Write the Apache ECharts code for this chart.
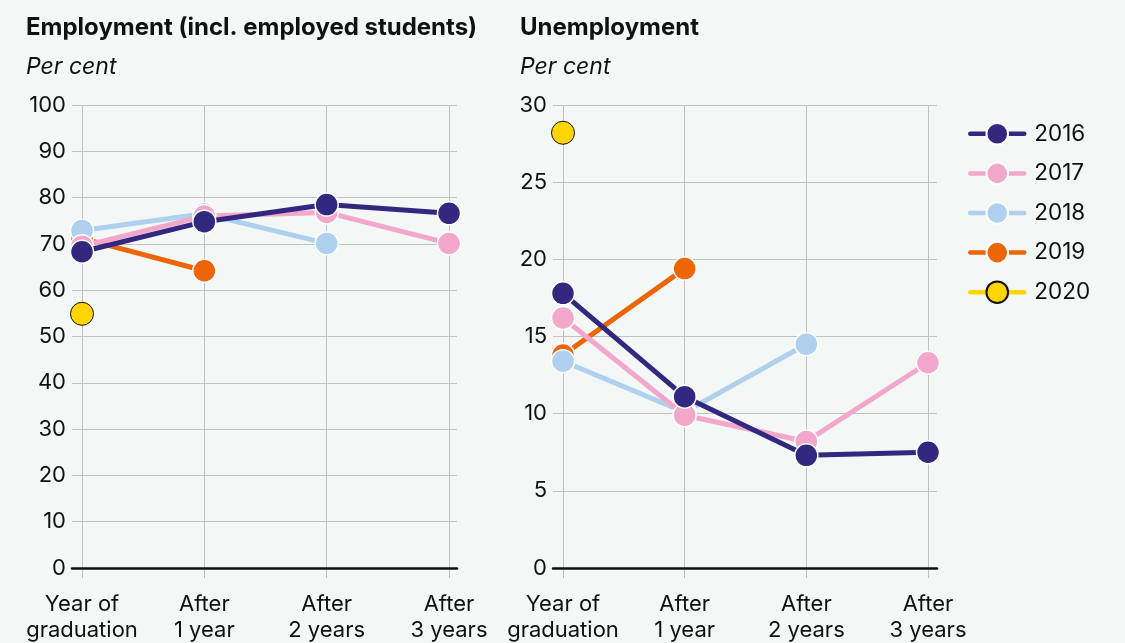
<!DOCTYPE html>
<html>
<head>
<meta charset="utf-8">
<script src="https://cdn.jsdelivr.net/npm/echarts@6/dist/echarts.min.js"></script>
<style>
  html, body { margin: 0; padding: 0; background: #f3f8f6; }
  #chart { width: 1125px; height: 643px; }
</style>
</head>
<body>
<div id="chart"></div>
<script>
// Time since graduation
const categories = ['Year of\ngraduation', 'After\n1 year', 'After\n2 years', 'After\n3 years'];
const years = ['2016', '2017', '2018', '2019', '2020'];

// Employment rate (incl. employed students), per cent
const emp2016 = [68.3, 74.8, 78.5, 76.6];
const emp2017 = [69.5, 76.0, 76.8, 70.1];
const emp2018 = [72.9, 76.5, 70.1];
const emp2019 = [71.2, 64.2];
const emp2020 = [54.9];

// Unemployment rate, per cent
const unemp2016 = [17.8, 11.1, 7.3, 7.5];
const unemp2017 = [16.2, 9.9, 8.2, 13.3];
const unemp2018 = [13.4, 10.1, 14.5];
const unemp2019 = [13.8, 19.4];
const unemp2020 = [28.2];

const empTicks = { min: 0, max: 100, interval: 10 };
const unempTicks = { min: 0, max: 30, interval: 5 };

const colors = {
  '2016': '#32287f',
  '2017': '#f3a8cb',
  '2018': '#afd0ef',
  '2019': '#ec6608',
  '2020': '#ffd500'
};

const FONT = 'Inter, "Noto Sans", sans-serif';
const GRID_COLOR = '#bfc3c2';

// panel geometry
const panels = [
  { bgLeft: 72, bgWidth: 385, left: 82, width: 367, ticks: empTicks,
    data: { '2016': emp2016, '2017': emp2017, '2018': emp2018, '2019': emp2019, '2020': emp2020 } },
  { bgLeft: 553, bgWidth: 384, left: 563, width: 365, ticks: unempTicks,
    data: { '2016': unemp2016, '2017': unemp2017, '2018': unemp2018, '2019': unemp2019, '2020': unemp2020 } }
];
const TOP = 105, HEIGHT = 463;

const grid = [], xAxis = [], yAxis = [], series = [];

panels.forEach((p, i) => {
  // background grid: y axis labels, horizontal lines and baseline
  grid.push({ left: p.bgLeft, width: p.bgWidth, top: TOP, height: HEIGHT });
  // data grid: category positions
  grid.push({ left: p.left, width: p.width, top: TOP, height: HEIGHT });
  const bg = i * 2, dg = i * 2 + 1;

  xAxis.push({
    gridIndex: bg, type: 'value', min: 0, max: 1,
    axisLine: { show: true, onZero: false, lineStyle: { color: '#111', width: 2.5 } },
    axisTick: { show: false }, axisLabel: { show: false }, splitLine: { show: false }, z: 5
  });
  xAxis.push({
    gridIndex: dg, type: 'category', boundaryGap: false, data: categories,
    axisLine: { show: false },
    axisTick: { show: true, length: 10, lineStyle: { color: GRID_COLOR, width: 1 } },
    splitLine: { show: true, lineStyle: { color: GRID_COLOR, width: 1 } },
    axisLabel: { color: '#111', fontFamily: FONT, fontSize: 22, lineHeight: 26, margin: 23, interval: 0 }
  });
  yAxis.push({
    gridIndex: bg, type: 'value', min: p.ticks.min, max: p.ticks.max, interval: p.ticks.interval,
    axisLine: { show: false }, axisTick: { show: false },
    splitLine: { show: true, lineStyle: { color: GRID_COLOR, width: 1 } },
    axisLabel: { color: '#111', fontFamily: FONT, fontSize: 22, margin: 6 }
  });
  yAxis.push({
    gridIndex: dg, type: 'value', min: p.ticks.min, max: p.ticks.max, interval: p.ticks.interval,
    show: false
  });

  // drawing order: 2019 underneath, 2016 on top, 2020 alone
  ['2019', '2018', '2017', '2016', '2020'].forEach((y, k) => {
    const c = colors[y];
    series.push({
      name: y, type: 'line', xAxisIndex: i * 2 + 1, yAxisIndex: i * 2 + 1,
      data: p.data[y], z: 10 + k,
      symbol: 'circle', symbolSize: 23, showSymbol: true,
      lineStyle: { color: c, width: 5, cap: 'round' },
      itemStyle: y === '2020'
        ? { color: c, borderColor: '#111', borderWidth: 1 }
        : { color: c, borderColor: '#ffffff', borderWidth: 1.5 },
      emphasis: { disabled: true },
      animation: false
    });
  });
});

const titleStyle = { fontFamily: FONT, fontSize: 24, fontWeight: 'bold', color: '#111' };
const subStyle = { fontFamily: FONT, fontSize: 23, fontStyle: 'italic', fontWeight: 'normal', color: '#111' };

const chart = echarts.init(document.getElementById('chart'), null, { renderer: 'canvas' });
chart.setOption({
  backgroundColor: '#f3f8f6',
  animation: false,
  title: [
    { text: 'Employment (incl. employed students)', left: 26, top: 16, padding: 0, textStyle: titleStyle },
    { text: 'Per cent', left: 26, top: 56, padding: 0, textStyle: subStyle },
    { text: 'Unemployment', left: 520, top: 16, padding: 0, textStyle: titleStyle },
    { text: 'Per cent', left: 520, top: 56, padding: 0, textStyle: subStyle }
  ],
  legend: {
    data: years, orient: 'vertical', left: 963, top: 117,
    itemWidth: 54, itemHeight: 27, itemGap: 16,
    lineStyle: { width: 4.5, cap: 'round' },
    textStyle: { fontFamily: FONT, fontSize: 22.5, color: '#111', padding: [0, 0, 0, 5] },
    selectedMode: false
  },
  grid, xAxis, yAxis, series
});
</script>
</body>
</html>
